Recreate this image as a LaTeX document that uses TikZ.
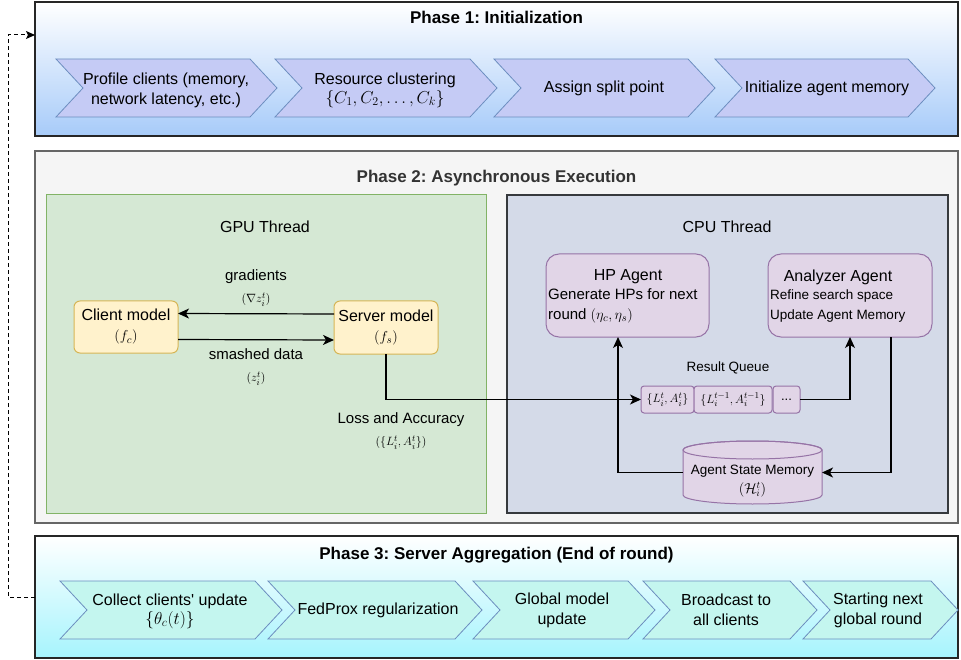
\documentclass[tikz,border=0pt]{standalone}
\usepackage{fontspec}
\setmainfont{Liberation Sans}
\usetikzlibrary{arrows.meta}
\definecolor{pOneBot}{HTML}{A7CBF9}
\definecolor{pThreeBot}{HTML}{A6F4FD}
\definecolor{chevOne}{HTML}{C5CBF5}
\definecolor{chevThree}{HTML}{C4F6EF}
\definecolor{chevLine}{HTML}{6C8EBF}
\definecolor{pTwoFill}{HTML}{F5F5F5}
\definecolor{pTwoLine}{HTML}{666666}
\definecolor{gpuFill}{HTML}{D5E8D4}
\definecolor{gpuLine}{HTML}{82B366}
\definecolor{cpuFill}{HTML}{D4DAE8}
\definecolor{cpuLine}{HTML}{36393D}
\definecolor{modFill}{HTML}{FFF2CC}
\definecolor{modLine}{HTML}{D6B656}
\definecolor{agFill}{HTML}{E1D5E7}
\definecolor{agLine}{HTML}{9673A6}
\definecolor{titleGray}{HTML}{333333}
\newcommand\chevpath[5]{%
  \filldraw[#5] (#1,#3) -- ({#2-27},#3) -- (#2,{(#3+#4)/2}) -- ({#2-27},#4) -- (#1,#4) -- ({#1+27},{(#3+#4)/2}) -- cycle;}
\frenchspacing
\begin{document}
\begin{tikzpicture}[x=1pt,y=-1pt,
  boxnode/.style={anchor=north west, inner sep=0pt, outer sep=0pt},
  arr/.style={-{Stealth[length=11pt,width=10pt,inset=3pt]}, line width=1.2pt},
  chevOneSt/.style={fill=chevOne, draw=chevLine, line width=0.8pt},
  chevThreeSt/.style={fill=chevThree, draw=chevLine, line width=0.8pt},
  ttl/.style={font=\fontsize{17}{20}\selectfont\bfseries, inner sep=0pt},
  ctext/.style={font=\fontsize{16}{20}\selectfont, align=center, inner sep=0pt},
  mtext/.style={font=\fontsize{16}{20}\selectfont, align=center, inner sep=0pt},
  stext/.style={font=\fontsize{15}{22}\selectfont, align=center, inner sep=0pt},
  smtext/.style={font=\fontsize{13.5}{20}\selectfont, align=left, inner sep=0pt},
  model/.style={boxnode, draw=modLine, fill=modFill, rounded corners=6pt, line width=1pt},
  agent/.style={boxnode, draw=agLine, fill=agFill, rounded corners=13pt, line width=1pt},
  qitem/.style={boxnode, draw=agLine, fill=agFill, rounded corners=3pt, line width=1pt}
]
\useasboundingbox (0,0) rectangle (961,660);

% ---------------- Phase 1 ----------------
\node[boxnode, draw=black!85, line width=1.4pt, top color=white, bottom color=pOneBot,
  minimum width=923pt, minimum height=134pt] (p1) at (35,2) {};
\node[ttl] (p1t) at (496.5,17) {Phase 1: Initialization};
\chevpath{56}{277}{59}{117}{chevOneSt}
\chevpath{275}{497}{59}{117}{chevOneSt}
\chevpath{494}{715}{59}{117}{chevOneSt}
\chevpath{715}{935}{59}{117}{chevOneSt}
\node[ctext] (c1) at (166,90) {Profile clients (memory,\\network latency, etc.)};
\node[ctext] (c2) at (385,90) {Resource clustering\\[-1pt]{\fontsize{18}{20}\selectfont$\{C_1, C_2, \ldots, C_k\}$}};
\node[ctext] (c3) at (604,88) {Assign split point};
\node[ctext] (c4) at (827,88) {Initialize agent memory};

% ---------------- Phase 2 ----------------
\node[boxnode, draw=pTwoLine, fill=pTwoFill, line width=1.4pt,
  minimum width=923pt, minimum height=372pt] (p2) at (35,151) {};
\node[ttl, text=titleGray] (p2t) at (496.5,178) {Phase 2: Asynchronous Execution};

\node[boxnode, draw=gpuLine, fill=gpuFill, line width=1pt,
  minimum width=440pt, minimum height=318pt] (gpu) at (46,195) {};
\node[mtext] (gput) at (265,227) {GPU Thread};
\node[boxnode, draw=cpuLine, fill=cpuFill, line width=1.2pt,
  minimum width=441pt, minimum height=318pt] (cpu) at (507,195) {};
\node[mtext] (cput) at (727,227) {CPU Thread};

\node[model, minimum width=104pt, minimum height=52pt] (cli) at (74,301) {};
\node[mtext] (clit) at (126,327) {Client model\\{\fontsize{15}{20}\selectfont$(f_c)$}};
\node[model, minimum width=104pt, minimum height=53pt] (srv) at (334,301) {};
\node[mtext] (srvt) at (386,327.5) {Server model\\{\fontsize{15}{20}\selectfont$(f_s)$}};

\draw[arr] ([yshift=13.5pt]srv.west) -- ([yshift=13.5pt]cli.east);
\draw[arr] ([yshift=-12.5pt]cli.east) -- ([yshift=-12.5pt]srv.west);
\node[stext] (gradl) at (256,288) {gradients\\{\fontsize{12.5}{15}\selectfont$(\nabla z_i^t)$}};
\node[stext] (smashl) at (256,367) {smashed data\\{\fontsize{12.5}{15}\selectfont$(z_i^t)$}};
\node[stext] (lossl) at (401,431) {Loss and Accuracy\\{\fontsize{13}{15}\selectfont$(\{L_i^t, A_i^t\})$}};

\node[agent, minimum width=163pt, minimum height=83pt] (hp) at (546,254) {};
\node[mtext] (hpt) at (628,277) {HP Agent};
\node[font=\fontsize{15}{20}\selectfont, align=left, inner sep=0pt, anchor=west] (hpb) at (548,306) {Generate HPs for next\\round $(\eta_c, \eta_s)$};
\node[agent, minimum width=164pt, minimum height=83pt] (ana) at (768,254) {};
\node[mtext] (anat) at (838,277) {Analyzer Agent};
\node[smtext, anchor=west] (anab) at (770,306) {Refine search space\\Update Agent Memory};

\node[font=\fontsize{13.5}{16}\selectfont, inner sep=0pt] (rq) at (728,368) {Result Queue};
\node[qitem, minimum width=53pt, minimum height=27pt] (q1) at (641,386) {};
\node[font=\fontsize{13}{16}\selectfont, inner sep=0pt] (q1t) at (q1.center) {$\{L_i^t, A_i^t\}$};
\node[qitem, minimum width=78pt, minimum height=27pt] (q2) at (694,386) {};
\node[font=\fontsize{13}{16}\selectfont, inner sep=0pt] (q2t) at (q2.center) {$\{L_i^{t-1}, A_i^{t-1}\}$};
\node[qitem, minimum width=27pt, minimum height=27pt] (q3) at (773,386) {};
\node[font=\fontsize{13}{16}\selectfont, inner sep=0pt] (q3t) at (q3.center) {...};

% cylinder
\node[boxnode, minimum width=139pt, minimum height=63pt] (mem) at (683,441) {};
\filldraw[fill=agFill, draw=agLine, line width=1pt]
  (683,450) -- (683,495) arc[start angle=180, end angle=360, x radius=69.5pt, y radius=9pt]
  -- (822,450) arc[start angle=0, end angle=180, x radius=69.5pt, y radius=9pt] -- cycle;
\draw[agLine, line width=1pt] (752.5,450) ellipse[x radius=69.5pt, y radius=9pt];
\node[font=\fontsize{13.5}{19}\selectfont, align=center, inner sep=0pt] (memt) at (752.5,481) {Agent State Memory\\{\fontsize{14.5}{19}\selectfont$(\mathcal{H}_i^t)$}};

\draw[arr] (srv.south) |- (q1.west);
\draw[arr] (q3.east) -| (ana.south);
\draw[arr] (mem.west) -| ([xshift=-9.5pt]hp.south);
\draw[arr] ([xshift=-41pt]ana.south east) |- (mem.east);

% ---------------- Phase 3 ----------------
\node[boxnode, draw=black!85, line width=1.4pt, top color=white, bottom color=pThreeBot,
  minimum width=923pt, minimum height=122pt] (p3) at (35,536) {};
\node[ttl] (p3t) at (496.5,555) {Phase 3: Server Aggregation (End of round)};
\chevpath{60}{282}{581}{639}{chevThreeSt}
\chevpath{268}{482}{581}{639}{chevThreeSt}
\chevpath{473}{655}{581}{639}{chevThreeSt}
\chevpath{643}{817}{581}{639}{chevThreeSt}
\chevpath{803}{958}{581}{639}{chevThreeSt}
\node[ctext] (d1) at (170,611) {Collect clients\textquotesingle{} update\\[-1pt]{\fontsize{18}{20}\selectfont$\{\theta_c(t)\}$}};
\node[ctext] (d2) at (378,610) {FedProx regularization};
\node[ctext] (d3) at (562,610) {Global model\\update};
\node[ctext] (d4) at (726,610) {Broadcast to\\all clients};
\node[ctext] (d5) at (878,610) {Starting next\\global round};

% dashed loop
\coordinate (loopS) at (35,597);
\coordinate (loopE) at (35,35);
\draw[dash pattern=on 4pt off 3pt, line width=1pt, -{Stealth[length=9pt,width=8pt,inset=2pt]}] (loopS) -- (8,597) -- (8,35) -- (loopE);
\end{tikzpicture}
\end{document}
